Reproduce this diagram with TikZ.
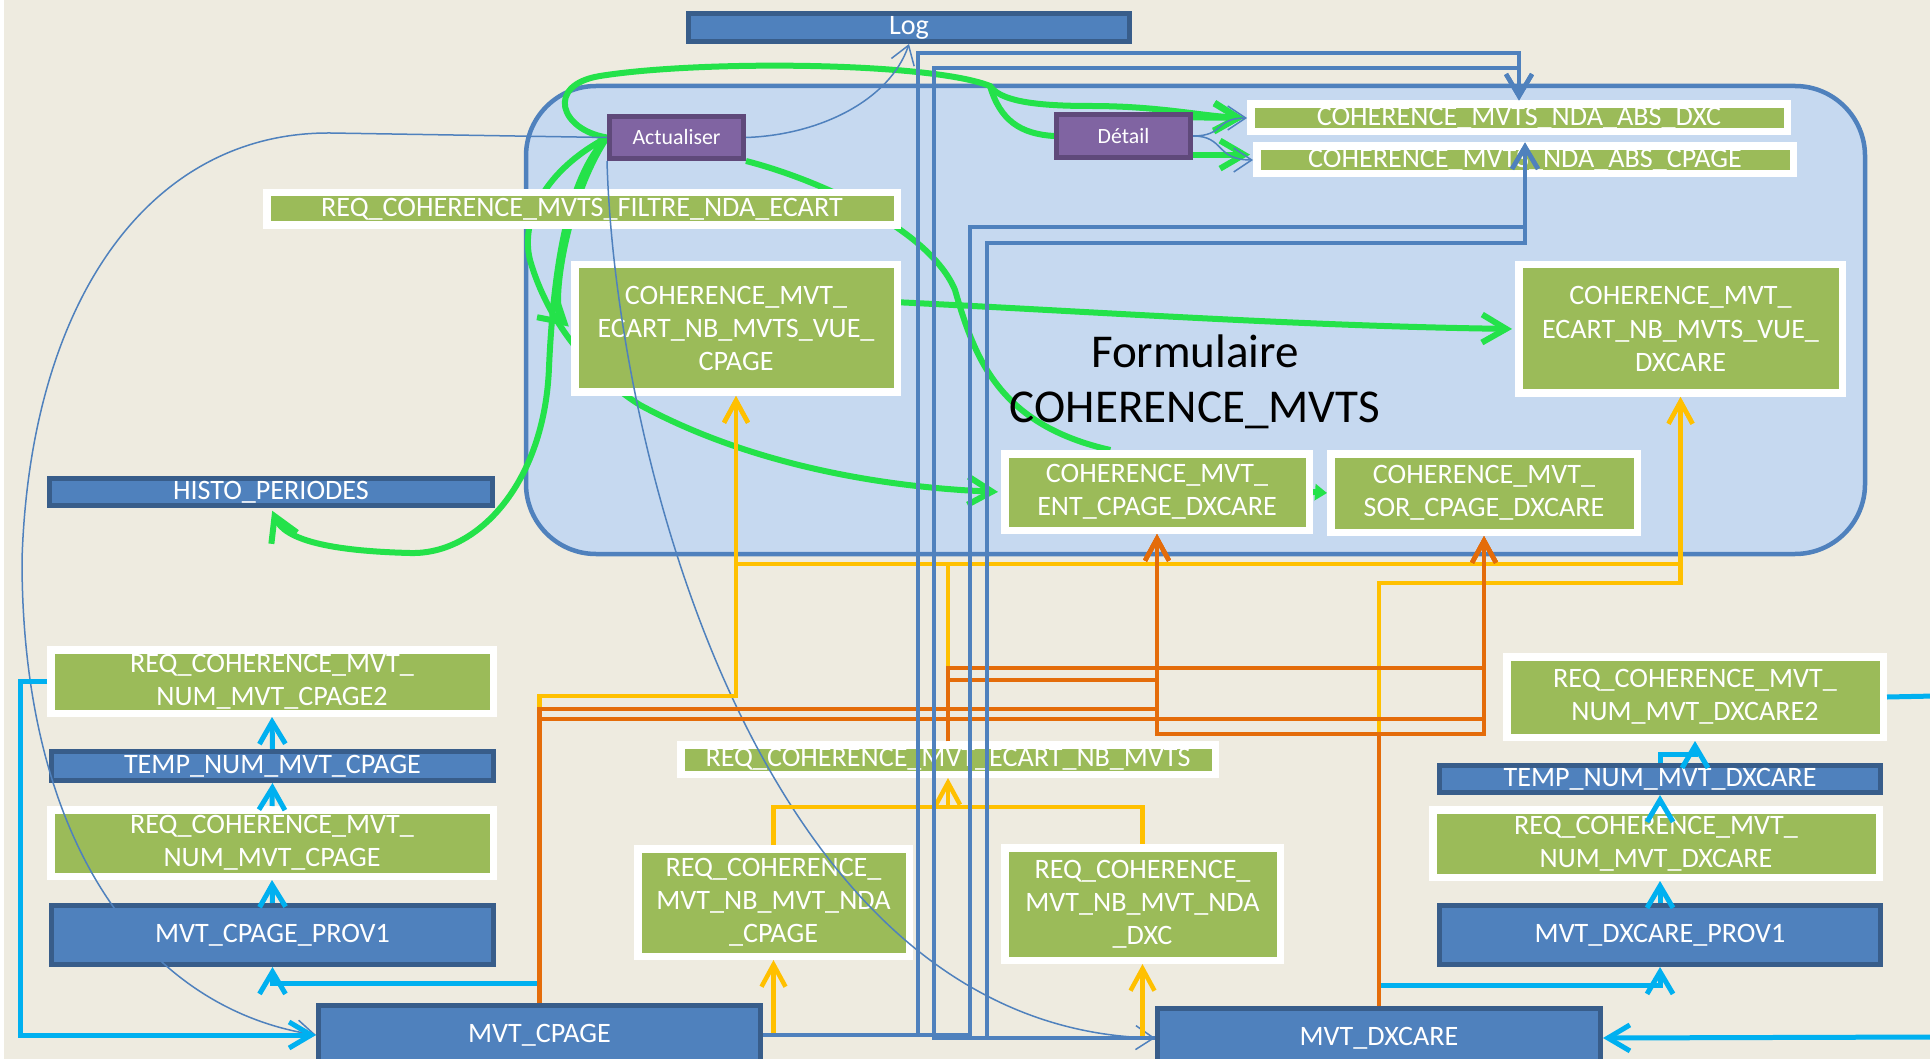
\documentclass[tikz,border=0pt]{standalone}
\usepackage{fontspec}
\setmainfont{Carlito}
\usetikzlibrary{arrows.meta}

\definecolor{bgbeige}{HTML}{EEEBE0}
\definecolor{contfill}{HTML}{C6D9F0}
\definecolor{boxblue}{HTML}{4F81BD}
\definecolor{boxblueedge}{HTML}{385D8A}
\definecolor{boxgreen}{HTML}{9BBB59}
\definecolor{btnpurple}{HTML}{8064A2}
\definecolor{btnedge}{HTML}{5F497A}
\definecolor{lgreen}{HTML}{24E24A}
\definecolor{lorange}{HTML}{E46C0A}
\definecolor{lyellow}{HTML}{FFC000}
\definecolor{lcyan}{HTML}{00B0F0}

\pgfdeclarelayer{bg}
\pgfdeclarelayer{mid}
\pgfsetlayers{bg,mid,main}

\tikzset{
	tblgreen/.style={draw=white, line width=0.75mm, fill=boxgreen, text=white, align=center, inner sep=0pt, font=\fontsize{8}{9.4}\selectfont},
	tblblue/.style={draw=boxblueedge, line width=0.5mm, fill=boxblue, text=white, align=center, inner sep=0pt, font=\fontsize{8}{9.4}\selectfont},
	btn/.style={draw=btnedge, line width=0.5mm, fill=btnpurple, text=white, inner sep=0pt, font=\fontsize{6.2}{7}\selectfont},
	gline/.style={draw=lgreen, line width=0.6mm},
	garrow/.style={gline, -{Straight Barb[length=2.4mm,width=2.8mm]}, shorten >=0.3mm},
	oarrow/.style={draw=lorange, line width=0.45mm, -{Straight Barb[length=2.2mm,width=2.4mm]}},
	yline/.style={draw=lyellow, line width=0.45mm},
	yarrow/.style={yline, -{Straight Barb[length=2.2mm,width=2.4mm]}},
	cline/.style={draw=lcyan, line width=0.5mm},
	carrow/.style={cline, -{Straight Barb[length=2.2mm,width=2.6mm]}},
	barrow/.style={draw=boxblue, line width=0.45mm, -{Straight Barb[length=2.2mm,width=2.6mm]}},
	thinarrow/.style={draw=boxblue, line width=0.15mm, -{Straight Barb[length=1.8mm,width=2.4mm]}}
}

\begin{document}
\begin{tikzpicture}[x=0.1mm,y=-0.1mm]
	\useasboundingbox (0,0) rectangle (1930,1059);

	% tables and queries
	\node[tblblue, minimum width=44.1mm, minimum height=2.8mm] (log) at (909,27.5) {Log};
	\node[btn, minimum width=13.4mm, minimum height=4.2mm] (act) at (676.5,137.5) {Actualiser};
	\node[btn, minimum width=13.4mm, minimum height=4.3mm] (det) at (1123.5,136) {Détail};
	\node[tblgreen, minimum width=53.65mm, minimum height=2.75mm] (dxc) at (1519,118) {COHERENCE\_MVTS\_NDA\_ABS\_DXC};
	\node[tblgreen, minimum width=53.65mm, minimum height=2.75mm] (cpg) at (1525,160) {COHERENCE\_MVTS\_NDA\_ABS\_CPAGE};
	\node[tblgreen, minimum width=63.05mm, minimum height=3.25mm] (filtre) at (582,209) {REQ\_COHERENCE\_MVTS\_FILTRE\_NDA\_ECART};
	\node[tblgreen, minimum width=32.25mm, minimum height=12.75mm] (vuec) at (736,328.5) {COHERENCE\_MVT\_\\ECART\_NB\_MVTS\_VUE\_\\CPAGE};
	\node[tblgreen, minimum width=32.35mm, minimum height=12.85mm] (vued) at (1680.5,329) {COHERENCE\_MVT\_\\ECART\_NB\_MVTS\_VUE\_\\DXCARE};
	\node[font=\fontsize{13.4}{15.8}\selectfont, align=center] (titre) at (1195,382) {Formulaire\\COHERENCE\_MVTS};
	\node[tblgreen, minimum width=30.45mm, minimum height=7.65mm] (ent) at (1157,492) {COHERENCE\_MVT\_\\ENT\_CPAGE\_DXCARE};
	\node[tblgreen, minimum width=30.65mm, minimum height=7.85mm] (sor) at (1484,493) {COHERENCE\_MVT\_\\SOR\_CPAGE\_DXCARE};
	\node[tblblue, minimum width=44.3mm, minimum height=2.7mm] (histo) at (271,492) {HISTO\_PERIODES};

	\node[tblgreen, minimum width=44.25mm, minimum height=6.35mm] (rc2) at (272,681.5) {REQ\_COHERENCE\_MVT\_\\NUM\_MVT\_CPAGE2};
	\node[tblblue, minimum width=44.2mm, minimum height=2.9mm] (tempc) at (272.5,766) {TEMP\_NUM\_MVT\_CPAGE};
	\node[tblgreen, minimum width=44.25mm, minimum height=6.65mm] (rc) at (272,843) {REQ\_COHERENCE\_MVT\_\\NUM\_MVT\_CPAGE};
	\node[tblblue, minimum width=44.2mm, minimum height=5.9mm] (provc) at (272.5,935) {MVT\_CPAGE\_PROV1};
	\node[tblblue, minimum width=44.2mm, minimum height=5.9mm] (mvtc) at (539.5,1035) {MVT\_CPAGE};

	\node[tblgreen, minimum width=53.45mm, minimum height=2.95mm] (ecart) at (948,759.5) {REQ\_COHERENCE\_MVT\_ECART\_NB\_MVTS};
	\node[tblgreen, minimum width=27.15mm, minimum height=10.75mm] (ndac) at (773.5,902.5) {REQ\_COHERENCE\_\\MVT\_NB\_MVT\_NDA\\\_CPAGE};
	\node[tblgreen, minimum width=27.55mm, minimum height=11.25mm] (ndad) at (1142.5,904) {REQ\_COHERENCE\_\\MVT\_NB\_MVT\_NDA\\\_DXC};
	\node[tblblue, minimum width=44.3mm, minimum height=5.9mm] (mvtd) at (1379,1038) {MVT\_DXCARE};

	\node[tblgreen, minimum width=37.65mm, minimum height=8.05mm] (rd2) at (1695,697) {REQ\_COHERENCE\_MVT\_\\NUM\_MVT\_DXCARE2};
	\node[tblblue, minimum width=44.1mm, minimum height=2.7mm] (tempd) at (1660,779) {TEMP\_NUM\_MVT\_DXCARE};
	\node[tblgreen, minimum width=44.65mm, minimum height=6.75mm] (rd) at (1656,843.5) {REQ\_COHERENCE\_MVT\_\\NUM\_MVT\_DXCARE};
	\node[tblblue, minimum width=44.1mm, minimum height=5.9mm] (provd) at (1660,935) {MVT\_DXCARE\_PROV1};

	\coordinate (gsplit) at (990,86);
	\coordinate (cpright) at (1935,696);
	\coordinate (cpin) at (1935,1037);

	% page and form
	\begin{pgfonlayer}{bg}
		\fill[bgbeige] (0,0) rectangle (1930,1059);
		\fill[white] (0,0) rectangle (4,1059);
		\draw[draw=boxblue, line width=0.45mm, fill=contfill, rounded corners=7mm] (526,86) rectangle (1865,554);
	\end{pgfonlayer}

	% green links of the form
	\begin{pgfonlayer}{mid}
		\draw[garrow] (act.west) .. controls (560,130) and (545,85) .. (600,76)
			.. controls (700,60) and (930,62) .. (gsplit)
			.. controls (1000,100) and (1030,106) .. (1090,106)
			.. controls (1160,106) and (1200,116) .. (dxc.west);
		\draw[gline] (gsplit) .. controls (1000,120) and (1020,134) .. (det.west);
		\draw[garrow] (act.west) .. controls (565,180) and (553,280) .. (549,367)
			.. controls (545,480) and (480,555) .. (410,553)
			.. controls (330,551) and (285,540) .. (histo.south);
		\draw[garrow] (act.west) .. controls (565,200) and (550,310) .. (vuec.west);
		\draw[garrow] (act.west) .. controls (545,170) and (520,220) .. (530,260)
			.. controls (550,330) and (600,380) .. (640,405)
			.. controls (760,470) and (900,488) .. (ent.west);
		\draw[gline] (act.south east) .. controls (820,180) and (930,230) .. (955,290)
			.. controls (975,360) and (1000,425) .. (ent.138);
		\draw[garrow] (vuec.9) .. controls (1100,312) and (1300,326) .. (vued.west);
		\draw[gline, -{Triangle[length=1.2mm,width=1.6mm]}] (ent.east) -- (sor.west);
		\draw[garrow] (det.15) -- (dxc.west);
		\draw[garrow] (det.-15) -- (det.-15 -| cpg.west);
	\end{pgfonlayer}

	% thin links
	\draw[thinarrow] (act.east) .. controls (820,135) and (890,100) .. (log.south);
	\draw[thinarrow] (act.south west) .. controls (615,450) and (760,1030) .. (mvtd.west);
	\draw[thinarrow] (act.west) -- (330,133) .. controls (150,132) and (30,300) .. (22,560)
		.. controls (22,850) and (150,1010) .. (mvtc.west);
	\draw[thinarrow] (det.east) .. controls (1225,136) and (1215,118) .. (dxc.west);
	\draw[thinarrow] (det.east) .. controls (1225,136) and (1215,160) .. (cpg.west);

	% cyan chains
	\draw[carrow] ([yshift=1.95mm]mvtc.north) -| (provc.south);
	\draw[carrow] (provc.north) -- (rc.south);
	\draw[carrow] (rc.north) -- (tempc.south);
	\draw[carrow] (tempc.north) -- (rc2.south);
	\draw[carrow] (rc2.west) -- ++(-27,0) |- (mvtc.west);
	\draw[carrow] ([yshift=2.05mm]mvtd.north) -| (provd.south);
	\draw[carrow] (provd.north) -- (rd.south -| provd.north);
	\draw[carrow] (rd.north -| tempd.south) -- (tempd.south);
	\draw[carrow] (tempd.north) -- ++(0,-9) -| (rd2.south);
	\draw[cline] (rd2.east) -- (cpright);
	\draw[carrow] (cpin) -- (mvtd.east);

	% yellow
	\draw[yarrow] (mvtc.north) -- ++(0,-307) -| (vuec.south);
	\draw[yarrow] (ecart.north) -- ++(0,-177) -| (vuec.south);
	\draw[yarrow] (ecart.north) -- ++(0,-177) -| (vued.south);
	\draw[yarrow] (mvtd.north) -- ++(0,-423) -| (vued.south);
	\draw[yarrow] (mvtc.east) -| (ndac.south);
	\draw[yarrow] (mvtd.west) -| (ndad.south);
	\draw[yline] (ndac.north) -- ++(0,-38) -| (ndad.north);
	\draw[yarrow] (ndac.north) -- ++(0,-38) -| (ecart.south);

	% orange
	\draw[oarrow] (mvtc.north) -- ++(0,-294) -| (ent.south);
	\draw[oarrow] (mvtc.north) -- ++(0,-284) -| (sor.south);
	\draw[oarrow] (ecart.north) -- ++(0,-61) -| (ent.south);
	\draw[oarrow] (ecart.north) -- ++(0,-73) -| (sor.south);
	\draw[oarrow] (mvtd.north) -- ++(0,-272) -| (ent.south);
	\draw[oarrow] (mvtd.north) -- ++(0,-272) -| (sor.south);

	% blue
	\draw[barrow] (mvtc.east) -| (918,53) -| (dxc.north);
	\draw[barrow] (mvtd.west) -| (934,68) -| (dxc.north);
	\draw[barrow] (mvtc.east) -| (970,227) -| (cpg.north);
	\draw[barrow] (mvtd.west) -| (987,243) -| (cpg.north);
\end{tikzpicture}
\end{document}
